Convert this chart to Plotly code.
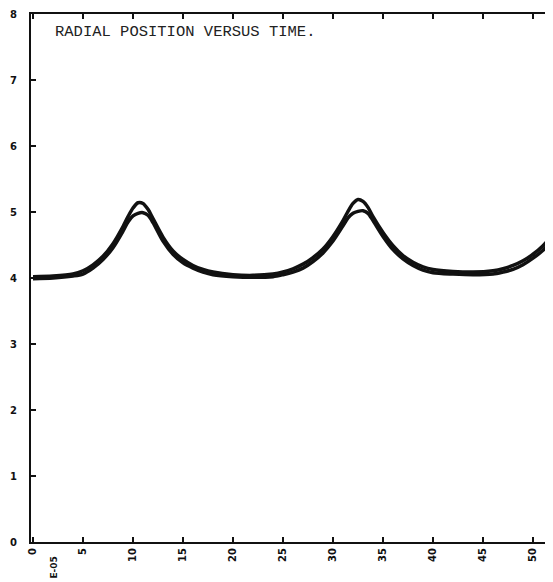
import plotly.graph_objects as go

# time (units of 1E-05) and radial position, upper/lower trace of the band
t = [0, 2, 4, 5, 6, 7, 8, 9, 9.5, 10, 10.5, 11, 11.5, 12, 13, 14, 15, 16, 17, 18,
     20, 22, 24, 25, 26, 27, 28, 29, 30, 31, 31.5, 32, 32.5, 33, 33.5, 34, 35, 36,
     37, 38, 39, 40, 42, 44, 46, 47, 48, 49, 50, 51, 52]
r_upper = [4.02, 4.03, 4.06, 4.11, 4.20, 4.33, 4.52, 4.78, 4.93, 5.06, 5.14, 5.13,
           5.04, 4.90, 4.62, 4.41, 4.28, 4.19, 4.13, 4.09, 4.05, 4.04, 4.06, 4.09,
           4.14, 4.21, 4.31, 4.44, 4.63, 4.87, 5.01, 5.13, 5.19, 5.16, 5.07, 4.93,
           4.69, 4.49, 4.34, 4.24, 4.17, 4.13, 4.10, 4.09, 4.11, 4.14, 4.19, 4.26,
           4.36, 4.49, 4.66]
r_lower = [3.99, 4.00, 4.03, 4.06, 4.15, 4.28, 4.46, 4.71, 4.85, 4.94, 4.98, 4.99,
           4.95, 4.84, 4.56, 4.36, 4.23, 4.15, 4.09, 4.05, 4.02, 4.01, 4.02, 4.05,
           4.09, 4.15, 4.25, 4.38, 4.56, 4.79, 4.91, 4.98, 5.01, 5.02, 4.98, 4.87,
           4.63, 4.43, 4.29, 4.19, 4.12, 4.08, 4.06, 4.05, 4.06, 4.09, 4.13, 4.20,
           4.30, 4.42, 4.58]

x_ticks = [0, 5, 10, 15, 20, 25, 30, 35, 40, 45, 50]
y_ticks = [0, 1, 2, 3, 4, 5, 6, 7, 8]
title_text = "RADIAL POSITION VERSUS TIME."

fig = go.Figure()
for r in (r_upper, r_lower):
    fig.add_trace(go.Scatter(x=t, y=r, mode="lines",
                             line=dict(color="#111", width=3.5, shape="spline",
                                       smoothing=0.8),
                             showlegend=False))

fig.add_annotation(x=2.0, y=7.73, xref="x", yref="y", text=title_text,
                   showarrow=False, xanchor="left", yanchor="middle",
                   font=dict(family="Liberation Mono", size=15.5, color="#222"))
fig.add_annotation(x=0.031, y=-0.048, xref="paper", yref="paper", text="E-05",
                   showarrow=False, textangle=-90, yanchor="middle",
                   font=dict(family="DejaVu Sans", size=9, color="#111",
                             weight="bold"))

# the page body has an 8px margin, so the figure is offset by 8px
fig.update_layout(
    width=545, height=574,
    margin=dict(l=23, r=0, t=6, b=40),
    paper_bgcolor="white", plot_bgcolor="white",
    xaxis=dict(range=[-0.2, 52.0], tickvals=x_ticks, ticks="inside", ticklen=5,
               tickwidth=1.5, tickcolor="#111", showline=True, linecolor="#111",
               linewidth=2, mirror="ticks", showgrid=False, zeroline=False,
               tickangle=-90, automargin=False,
               tickfont=dict(family="DejaVu Sans", size=10, color="#111",
                             weight="bold")),
    yaxis=dict(range=[0, 8], tickvals=y_ticks, ticks="inside", ticklen=5,
               tickwidth=1.5, tickcolor="#111", showline=True, linecolor="#111",
               linewidth=2, showgrid=False, zeroline=False, ticklabelstandoff=10,
               automargin=False,
               tickfont=dict(family="DejaVu Sans", size=10, color="#111",
                             weight="bold")),
)

fig.write_html("out.html")
